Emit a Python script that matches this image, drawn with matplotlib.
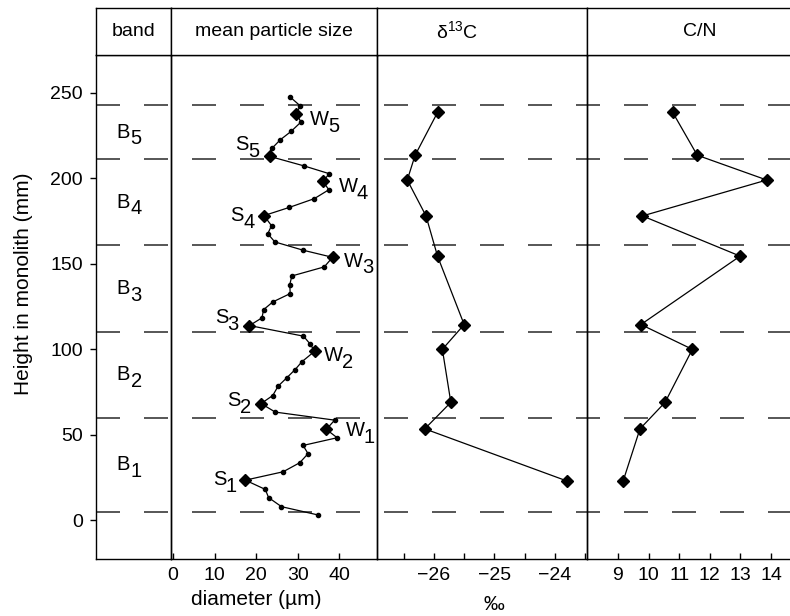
import matplotlib
matplotlib.use('Agg')
import matplotlib.pyplot as plt
from matplotlib.ticker import MultipleLocator
from matplotlib.transforms import blended_transform_factory

plt.rcParams['font.family'] = ['Liberation Sans', 'DejaVu Sans']
plt.rcParams['mathtext.default'] = 'regular'
plt.rcParams['font.size'] = 14

# band boundaries (mm) and band names
band_edges = [5, 60, 110, 161, 211, 243]
band_names = ['1', '2', '3', '4', '5']

# mean particle size profile, top to bottom
ps_height = [247.5, 242.4, 237.7, 232.9, 227.4, 222.5, 217.5, 212.8, 207.2, 202.7,
             198.2, 193.3, 188.1, 183.0, 178.2, 172.3, 167.6, 162.8, 157.9, 153.8,
             148.2, 142.9, 137.9, 132.6, 127.7, 123.2, 118.4, 113.9, 107.7, 103.4,
             98.9, 92.7, 88.2, 83.4, 78.5, 73.0, 68.3, 63.3, 58.6, 53.2,
             48.3, 43.8, 39.0, 33.7, 28.4, 23.5, 18.1, 13.3, 8.0, 3.1]
ps_diam = [28.2, 30.6, 29.7, 30.8, 28.4, 25.8, 23.8, 23.3, 31.6, 37.6,
           36.1, 37.5, 34.0, 28.0, 21.9, 23.7, 22.8, 24.5, 31.4, 38.4,
           36.4, 28.6, 28.1, 28.2, 24.0, 21.8, 21.4, 18.4, 31.4, 32.9,
           34.1, 31.0, 29.4, 27.4, 25.3, 24.0, 21.2, 24.6, 38.9, 36.9,
           39.5, 31.3, 32.5, 30.5, 26.5, 17.4, 22.2, 23.0, 26.1, 35.0]
# indices of the winter/summer samples (diamonds) in the profile
sample_idx = [2, 7, 10, 14, 19, 27, 30, 36, 39, 45]
sample_kind = ['W', 'S', 'W', 'S', 'W', 'S', 'W', 'S', 'W', 'S']
sample_num = ['5', '5', '4', '4', '3', '3', '2', '2', '1', '1']
name_x = [33.0, 20.8, 39.9, 19.6, 41.1, 15.8, 36.3, 18.8, 41.5, 15.4]
name_y = [234.2, 219.8, 195.0, 178.3, 151.6, 118.6, 96.2, 69.9, 52.3, 23.7]

# geochemistry of the same samples
sample_height = [238.5, 213.5, 199, 178, 154.5, 114.5, 100, 69, 53.5, 23]
d13c = [-25.94, -26.31, -26.44, -26.13, -25.94, -25.50, -25.86, -25.72, -26.15, -23.80]
cn = [10.79, 11.59, 13.86, 9.80, 12.99, 9.75, 11.43, 10.54, 9.72, 9.17]

W, H = 790, 616
fig = plt.figure(figsize=(W / 100, H / 100), dpi=100)


def px_axes(x0, x1, y0, y1, **kw):
    # box given in pixels, origin top-left
    return fig.add_axes([x0 / W, 1 - y1 / H, (x1 - x0) / W, (y1 - y0) / H], **kw)


def sub_label(ax, x, y, main, sub, ha, size=14.5, transform=None, drop=4.8):
    # letter with a full-size, lowered index (as in the original figure)
    tr = transform if transform is not None else ax.transData
    w_main = {'W': 0.9, 'S': 0.64, 'B': 0.64}[main] * size
    w_sub = 0.53 * size
    if ha == 'left':
        offs_main, offs_sub, ha_m, ha_s = (0, 0), (w_main, -drop), 'left', 'left'
    elif ha == 'right':
        offs_main, offs_sub, ha_m, ha_s = (-w_sub, 0), (0, -drop), 'right', 'right'
    else:
        offs_main, offs_sub, ha_m, ha_s = (0, 0), (0.3, -drop), 'right', 'left'
    ax.annotate(main, (x, y), xycoords=tr, xytext=offs_main, textcoords='offset points',
                ha=ha_m, va='center', fontsize=size)
    ax.annotate(sub, (x, y), xycoords=tr, xytext=offs_sub, textcoords='offset points',
                ha=ha_s, va='center', fontsize=size)


cols = [96, 171, 377, 587, 813]
top, bottom, htop = 55, 559, 7.5
ylim = (-22.6, 272.1)
lw_frame = 1.0

# dashed band boundaries across all columns
bg = px_axes(cols[0], cols[-1], top, bottom)
bg.set_ylim(*ylim)
bg.axis('off')
for y in band_edges:
    bg.axhline(y, color='#3a3a3a', lw=1.2, dashes=(14.4, 14.4))

axes = []
for i in range(4):
    ax = px_axes(cols[i], cols[i + 1], top, bottom, sharey=bg)
    ax.set_facecolor('none')
    for s in ax.spines.values():
        s.set_linewidth(lw_frame)
    ax.tick_params(axis='x', direction='in', length=4.5, width=1, pad=6)
    ax.tick_params(axis='x', which='minor', direction='in', length=4.5, width=1)
    ax.tick_params(axis='y', left=False, labelleft=False)
    axes.append(ax)
ax_band, ax_ps, ax_c, ax_cn = axes

# band column
ax_band.tick_params(axis='y', left=True, labelleft=True, direction='out',
                    length=4.5, width=1, pad=5)
ax_band.set_yticks([0, 50, 100, 150, 200, 250])
ax_band.set_ylim(*ylim)
ax_band.set_xticks([])
ax_band.text(-0.973, 0.547, 'Height in monolith (mm)', rotation=90, ha='center',
             va='center', fontsize=15, transform=ax_band.transAxes)
band_tr = blended_transform_factory(ax_band.transAxes, ax_band.transData)
for i, num in enumerate(band_names):
    mid = (band_edges[i] + band_edges[i + 1]) / 2
    sub_label(ax_band, 0.455, mid, 'B', num, 'center', transform=band_tr)

# mean particle size
ax_ps.plot(ps_diam, ps_height, color='black', lw=0.9, marker='o', ms=3)
ax_ps.plot([ps_diam[i] for i in sample_idx], [ps_height[i] for i in sample_idx],
           ls='none', marker='D', ms=6.5, color='black')
for x, y, k, n in zip(name_x, name_y, sample_kind, sample_num):
    sub_label(ax_ps, x, y, k, n, 'left' if k == 'W' else 'right')
ax_ps.set_xlim(-0.5, 49.1)
ax_ps.set_xticks([0, 10, 20, 30, 40])
ax_ps.text(20, -0.081, 'diameter (µm)', ha='center', va='center', fontsize=15,
           transform=blended_transform_factory(ax_ps.transData, ax_ps.transAxes))

# delta 13C
ax_c.plot(d13c, sample_height, color='black', lw=0.9, marker='D', ms=6.5)
ax_c.set_xlim(-26.94, -23.47)
ax_c.xaxis.set_major_locator(MultipleLocator(1))
ax_c.xaxis.set_minor_locator(MultipleLocator(0.5))
ax_c.text(-25, -0.091, '‰', ha='center', va='center', fontsize=15,
          transform=blended_transform_factory(ax_c.transData, ax_c.transAxes))

# C/N
ax_cn.plot(cn, sample_height, color='black', lw=0.9, marker='D', ms=6.5)
ax_cn.set_xlim(7.99, 15.37)
ax_cn.set_xticks([9, 10, 11, 12, 13, 14])

# header row
heads = ['band', 'mean particle size', 'δ$^{13}$C', 'C/N']
head_x = [0.5, 0.5, 0.38, 0.5]
for i in range(4):
    hx = px_axes(cols[i], cols[i + 1], htop, top)
    hx.set_xticks([])
    hx.set_yticks([])
    for s in hx.spines.values():
        s.set_linewidth(lw_frame)
    hx.text(head_x[i], 0.5, heads[i], ha='center', va='center', transform=hx.transAxes)

fig.savefig('out.png', dpi=100)
